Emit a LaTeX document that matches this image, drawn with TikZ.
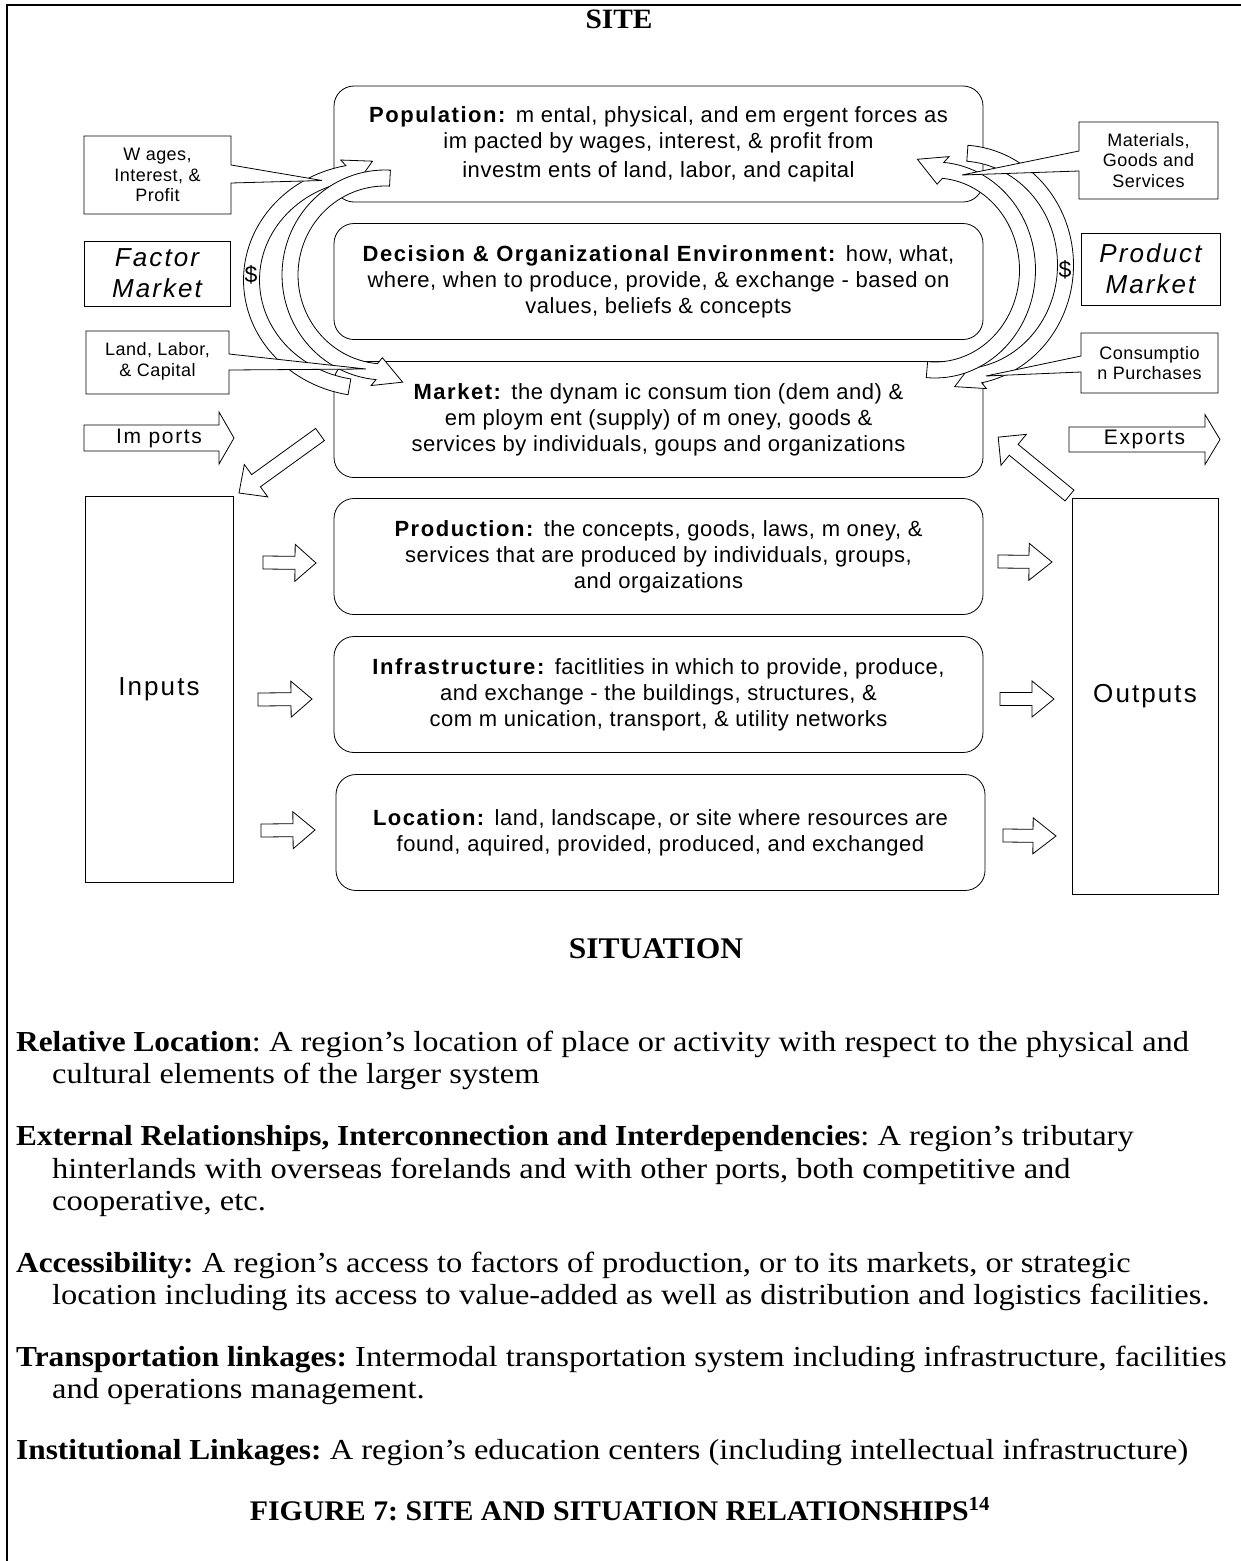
\documentclass[tikz,border=0pt]{standalone}
\usepackage{fontspec}
\setmainfont{Liberation Serif}
\newfontfamily\bodyfont[FakeStretch=1.12,BoldFeatures={FakeStretch=1.08}]{Liberation Serif}
\newfontfamily\titlefont[FakeStretch=1.05]{Liberation Serif}
\newfontfamily\af[LetterSpace=2.5,BoldFeatures={LetterSpace=7}]{Liberation Sans}
\newfontfamily\afw[LetterSpace=8]{Liberation Sans}
\usetikzlibrary{calc}

\tikzset{
  rbox/.style={draw, line width=0.8pt, fill=white, rounded corners=20pt,
    minimum width=649pt, minimum height=116pt, inner sep=0pt, align=center,
    font=\af\fontsize{22}{26}\selectfont},
  plainbox/.style={draw, line width=0.8pt, fill=white, inner sep=0pt, align=center},
  ctext/.style={align=center, inner sep=0pt, font=\af\fontsize{18}{20.5}\selectfont},
  bigital/.style={font=\afw\itshape\fontsize{26}{31}\selectfont},
  blk/.style={draw, line width=0.8pt, fill=white, line join=miter},
  bandshape/.style={draw, line width=0.8pt, fill=white, line join=miter},
  serif/.style={inner sep=0pt, anchor=base west, font=\bodyfont\fontsize{29}{32.5}\selectfont\frenchspacing},
  stitle/.style={inner sep=0pt, anchor=base},
  callout/.style={draw, line width=0.8pt, fill=white, line join=miter},
}

% block arrow: tail x,y ; tip x,y ; shaft half width ; head half width ; head length
\newcommand\blockarrow[7]{%
  \pgfmathsetmacro\bdx{#3-#1}%
  \pgfmathsetmacro\bdy{#4-#2}%
  \pgfmathsetmacro\blen{veclen(\bdx,\bdy)}%
  \pgfmathsetmacro\bang{atan2(-(\bdy),\bdx)}%
  \pgfmathsetmacro\bneck{\blen-#7}%
  \begin{scope}[shift={(#1,#2)},rotate=\bang]
    \filldraw[blk] (0,-#5) -- (\bneck,-#5) -- (\bneck,-#6) -- (\blen,0)
      -- (\bneck,#6) -- (\bneck,#5) -- (0,#5) -- cycle;
  \end{scope}}

% curved band arrow along an ellipse: cx, cy, rx, ry, tail angle, head angle, head tilt
\def\bh{8}\def\hw{15}\def\hl{28}
\newcommand\bandarrow[7]{%
  \pgfmathsetmacro\sg{(#6>#5)?1:-1}%
  \pgfmathsetmacro\Bx{#1+#3*cos(#6)}%
  \pgfmathsetmacro\By{#2+#4*sin(#6)}%
  \pgfmathsetmacro\Tx{(-1)*(\sg)*#3*sin(#6)}%
  \pgfmathsetmacro\Ty{(\sg)*#4*cos(#6)}%
  \pgfmathsetmacro\Tl{veclen(\Tx,\Ty)}%
  \pgfmathsetmacro\Ux{((\Tx)*cos(#7)+(\Ty)*sin(#7))/\Tl}%
  \pgfmathsetmacro\Uy{((-1)*(\Tx)*sin(#7)+(\Ty)*cos(#7))/\Tl}%
  \pgfmathsetmacro\ns{(((-1)*(\Uy))*cos(#6)+(\Ux)*sin(#6))>0?1:-1}%
  \pgfmathsetmacro\Nx{(-1)*(\ns)*(\Uy)}%
  \pgfmathsetmacro\Ny{(\ns)*(\Ux)}%
  \filldraw[bandshape]
    plot[domain=#5:#6,samples=60] ({#1+(#3+\bh)*cos(\x)},{#2+(#4+\bh)*sin(\x)})
    -- ({\Bx+\hw*(\Nx)},{\By+\hw*(\Ny)})
    -- ({\Bx+\hl*(\Ux)},{\By+\hl*(\Uy)})
    -- ({\Bx-\hw*(\Nx)},{\By-\hw*(\Ny)})
    -- plot[domain=#6:#5,samples=60] ({#1+(#3-\bh)*cos(\x)},{#2+(#4-\bh)*sin(\x)})
    -- cycle;}

\begin{document}
\begin{tikzpicture}[x=1pt,y=-1pt]
\useasboundingbox (0,0) rectangle (1241,1561);
\fill[white] (0,0) rectangle (1241,1561);
\draw[line width=2.2pt] (7,1562) -- (7,5) -- (1242,5);

\node[stitle, font=\titlefont\bfseries\fontsize{28}{30}\selectfont] (site) at (619,28) {SITE};

% ---------- central boxes ----------
\node[rbox] (pop) at (658.5,144) {\textbf{Population:} m ental, physical, and em ergent forces as\\ im pacted by wages, interest, \& profit from\\[3pt] investm ents of land, labor, and capital};
\node[rbox] (dec) at (658.5,281.5) {\textbf{Decision \& Organizational Environment:} how, what,\\ where, when to produce, provide, \& exchange - based on\\ values, beliefs \& concepts};
\node[rbox] (mkt) at (658.5,419.5) {\textbf{Market:} the dynam ic consum tion (dem and) \&\\ em ploym ent (supply) of m oney, goods \&\\ services by individuals, goups and organizations};
\node[rbox] (prod) at (658.5,556.5) {\textbf{Production:} the concepts, goods, laws, m oney, \&\\ services that are produced by individuals, groups,\\ and orgaizations};
\node[rbox] (infra) at (658.5,694.5) {\textbf{Infrastructure:} facitlities in which to provide, produce,\\ and exchange - the buildings, structures, \&\\ com m unication, transport, \& utility networks};
\node[rbox] (loc) at (660.5,832.5) {\textbf{Location:} land, landscape, or site where resources are\\ found, aquired, provided, produced, and exchanged};

% ---------- inputs / outputs ----------
\node[plainbox, minimum width=148pt, minimum height=386pt, font=\afw\fontsize{26}{30}\selectfont] (inputs) at (159,689) {Inputs};
\node[plainbox, minimum width=146pt, minimum height=396pt, font=\afw\fontsize{26}{30}\selectfont] (outputs) at (1145,696) {Outputs};

% small block arrows
\blockarrow{263}{562.5}{316}{563}{6.5}{18.5}{21}
\blockarrow{258}{699.5}{312}{699}{6.5}{18}{21}
\blockarrow{261}{830.5}{315}{830}{6.5}{18.5}{22}
\blockarrow{998}{561.5}{1052}{562}{6.5}{18.5}{23}
\blockarrow{1000}{699}{1054}{699}{6.5}{18}{22}
\blockarrow{1003}{835.5}{1056}{836}{6.5}{18}{23}

% market -> inputs, outputs -> market
\blockarrow{320}{434.5}{239}{493}{7.5}{20}{21}
\blockarrow{1069.5}{495.5}{998}{437}{7}{20}{20}

% ---------- curved flows ----------
\bandarrow{370}{280}{118.5}{108.5}{100}{259}{16}
\bandarrow{385}{275}{95}{97}{273}{95}{-17}
\bandarrow{960}{265}{105.5}{112}{-86}{79}{13}
\bandarrow{935}{270}{92.5}{100}{95}{-85}{-18}

\node[inner sep=0pt, font=\af\fontsize{23}{23}\selectfont] (dollarL) at (251,275) {\$};
\node[inner sep=0pt, font=\af\fontsize{23}{23}\selectfont] (dollarR) at (1065,270) {\$};

% ---------- callouts ----------
\filldraw[callout] (84,136) -- (231,136) -- (231,165) -- (322,180.5) -- (231,183) -- (231,214) -- (84,214) -- cycle;
\node[ctext] (wages) at (157.5,175) {W ages,\\Interest, \&\\Profit};

\filldraw[callout] (86,331) -- (229,331) -- (229,354) -- (366,369) -- (229,370) -- (229,394) -- (86,394) -- cycle;
\node[ctext] (land) at (157.5,361.5) {Land, Labor,\\\& Capital};

\filldraw[callout] (1079,122) -- (1218,122) -- (1218,199) -- (1079,199) -- (1079,171) -- (962,175) -- (1079,151) -- cycle;
\node[ctext] (mat) at (1148.5,160.5) {Materials,\\Goods and\\Services};

\filldraw[callout] (1081,333) -- (1218,333) -- (1218,393) -- (1081,393) -- (1081,372) -- (986,376) -- (1081,356) -- cycle;
\node[ctext] (cons) at (1149.5,363) {Consumptio\\n Purchases};

\node[plainbox, bigital, minimum width=146pt, minimum height=65pt] (factor) at (157,273.5) {Factor\\Market};
\node[plainbox, bigital, minimum width=139pt, minimum height=72pt] (product) at (1150.5,269) {Product\\Market};

% imports / exports
\blockarrow{84}{438}{234}{438}{13}{26}{15}
\node[inner sep=0pt, font=\afw\fontsize{21}{24}\selectfont] (imports) at (159,438) {Im ports};
\blockarrow{1069}{439.5}{1220}{439.5}{12.5}{25}{15}
\node[inner sep=0pt, font=\afw\fontsize{21}{24}\selectfont] (exports) at (1144.5,439.5) {Exports};

% ---------- situation ----------
\node[stitle, font=\titlefont\bfseries\fontsize{30}{32}\selectfont] (sit) at (656,958) {SITUATION};
\node[serif] (s1a) at (16,1051) {\textbf{Relative Location}: A region’s location of place or activity with respect to the physical and};
\node[serif] (s1b) at (52,1083) {cultural elements of the larger system};
\node[serif] (s2a) at (16,1145) {\textbf{External Relationships, Interconnection and Interdependencies}: A region’s tributary};
\node[serif] (s2b) at (52,1178) {hinterlands with overseas forelands and with other ports, both competitive and};
\node[serif] (s2c) at (52,1210) {cooperative, etc.};
\node[serif] (s3a) at (16,1272) {\textbf{Accessibility:} A region’s access to factors of production, or to its markets, or strategic};
\node[serif] (s3b) at (52,1304) {location including its access to value-added as well as distribution and logistics facilities.};
\node[serif] (s4a) at (16,1366) {\textbf{Transportation linkages:} Intermodal transportation system including infrastructure, facilities};
\node[serif] (s4b) at (52,1398) {and operations management.};
\node[serif] (s5a) at (16,1459) {\textbf{Institutional Linkages:} A region’s education centers (including intellectual infrastructure)};
\node[stitle, font=\titlefont\bfseries\fontsize{28.4}{30}\selectfont\frenchspacing] (fig) at (620,1520) {FIGURE 7: SITE AND SITUATION RELATIONSHIPS\textsuperscript{14}};
\end{tikzpicture}
\end{document}
